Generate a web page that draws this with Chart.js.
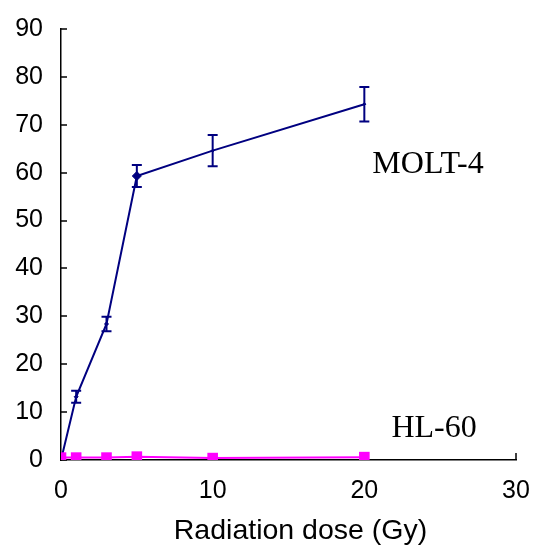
<!DOCTYPE html>
<html>
<head>
<meta charset="utf-8">
<script src="https://cdn.jsdelivr.net/npm/chart.js@4"></script>
<style>
  html, body { margin: 0; padding: 0; background: #fff; }
  #wrap { width: 535px; height: 545px; }
</style>
</head>
<body>
<div id="wrap"><canvas id="doseChart"></canvas></div>
<script>
// dose (Gy)
const doses = [0, 1, 3, 5, 10, 20];
const molt4Values = [0, 13.2, 28.4, 59.3, 64.6, 74.3];
const molt4Errors = [0, 1.25, 1.5, 2.3, 3.25, 3.6];
const hl60Values = [0.5, 0.5, 0.5, 0.7, 0.4, 0.6];
const xTicks = [0, 10, 20, 30];
const yTicks = [0, 10, 20, 30, 40, 50, 60, 70, 80, 90];

const NAVY = '#000080';
const MAGENTA = '#ff00ff';
const SANS = '"Liberation Sans", Arial, sans-serif';

// error bars for the MOLT-4 series
const errorBars = {
    id: 'errorBars',
    afterDatasetsDraw(chart) {
        const ctx = chart.ctx;
        const xs = chart.scales.x, ys = chart.scales.y;
        ctx.save();
        ctx.strokeStyle = NAVY;
        ctx.lineWidth = 2;
        doses.forEach((d, i) => {
            const e = molt4Errors[i];
            if (!e) return;
            const px = xs.getPixelForValue(d);
            const top = ys.getPixelForValue(molt4Values[i] + e);
            const bot = ys.getPixelForValue(molt4Values[i] - e);
            ctx.beginPath();
            ctx.moveTo(px, top); ctx.lineTo(px, bot);
            ctx.moveTo(px - 5, top); ctx.lineTo(px + 5, top);
            ctx.moveTo(px - 5, bot); ctx.lineTo(px + 5, bot);
            ctx.stroke();
        });
        ctx.restore();
    }
};

// tick marks pointing into the plot, axis title and the series labels
const axisExtras = {
    id: 'axisExtras',
    beforeDatasetsDraw(chart) {
        const ctx = chart.ctx;
        const xs = chart.scales.x, ys = chart.scales.y;
        const a = chart.chartArea;
        ctx.save();
        ctx.strokeStyle = '#000';
        ctx.lineWidth = 1.5;
        ctx.beginPath();
        yTicks.forEach(v => {
            const py = Math.round(ys.getPixelForValue(v));
            ctx.moveTo(a.left, py); ctx.lineTo(a.left + 6, py);
        });
        xTicks.forEach(v => {
            const px = Math.round(xs.getPixelForValue(v));
            ctx.moveTo(px, a.bottom); ctx.lineTo(px, a.bottom - 7);
        });
        ctx.stroke();

        ctx.fillStyle = '#000';
        ctx.textAlign = 'center';
        ctx.textBaseline = 'alphabetic';
        ctx.font = '28.5px ' + SANS;
        ctx.fillText('Radiation dose (Gy)', (a.left + a.right) / 2 + 12, 539);

        ctx.font = '32px "Liberation Serif", "Times New Roman", serif';
        ctx.fillText('MOLT-4', xs.getPixelForValue(24.2), ys.getPixelForValue(59.9));
        ctx.fillText('HL-60', xs.getPixelForValue(24.6), ys.getPixelForValue(4.8));
        ctx.restore();
    }
};

const hiddenTicks = { display: true, drawOnChartArea: false, drawTicks: true, tickColor: 'rgba(0,0,0,0)' };

const ctx = document.getElementById('doseChart').getContext('2d');
new Chart(ctx, {
    type: 'line',
    data: {
        datasets: [{
            label: 'MOLT-4',
            data: doses.map((d, i) => ({ x: d, y: molt4Values[i] })),
            borderColor: NAVY,
            backgroundColor: NAVY,
            borderWidth: 2,
            pointStyle: 'rectRot',
            pointRadius: [3, 2, 2, 4.5, 1.5, 1.5],
            pointBorderWidth: 1,
            tension: 0,
            order: 1
        }, {
            label: 'HL-60',
            data: doses.map((d, i) => ({ x: d, y: hl60Values[i] })),
            borderColor: MAGENTA,
            backgroundColor: MAGENTA,
            borderWidth: 2,
            pointStyle: 'rect',
            pointRadius: 7.5,
            pointBorderWidth: 0,
            tension: 0,
            order: 0
        }]
    },
    options: {
        responsive: true,
        maintainAspectRatio: false,
        animation: false,
        layout: { padding: { top: 29, right: 19, bottom: 0, left: 0 } },
        plugins: {
            legend: { display: false },
            tooltip: { enabled: false }
        },
        scales: {
            x: {
                type: 'linear',
                min: 0,
                max: 30,
                afterBuildTicks: s => { s.ticks = xTicks.map(v => ({ value: v })); },
                afterFit: s => { s.height = 85; },
                grid: Object.assign({ tickLength: 16 }, hiddenTicks),
                border: { color: '#000', width: 1.5 },
                ticks: {
                    color: '#000',
                    padding: 0,
                    maxRotation: 0,
                    font: { family: SANS, size: 25 }
                },
                title: { display: false }
            },
            y: {
                min: 0,
                max: 90,
                afterBuildTicks: s => { s.ticks = yTicks.map(v => ({ value: v })); },
                afterFit: s => { s.width = 61; },
                grid: Object.assign({ tickLength: 18 }, hiddenTicks),
                border: { color: '#000', width: 1.5 },
                ticks: {
                    color: '#000',
                    padding: 0,
                    font: { family: SANS, size: 25 }
                }
            }
        }
    },
    plugins: [axisExtras, errorBars]
});
</script>
</body>
</html>
